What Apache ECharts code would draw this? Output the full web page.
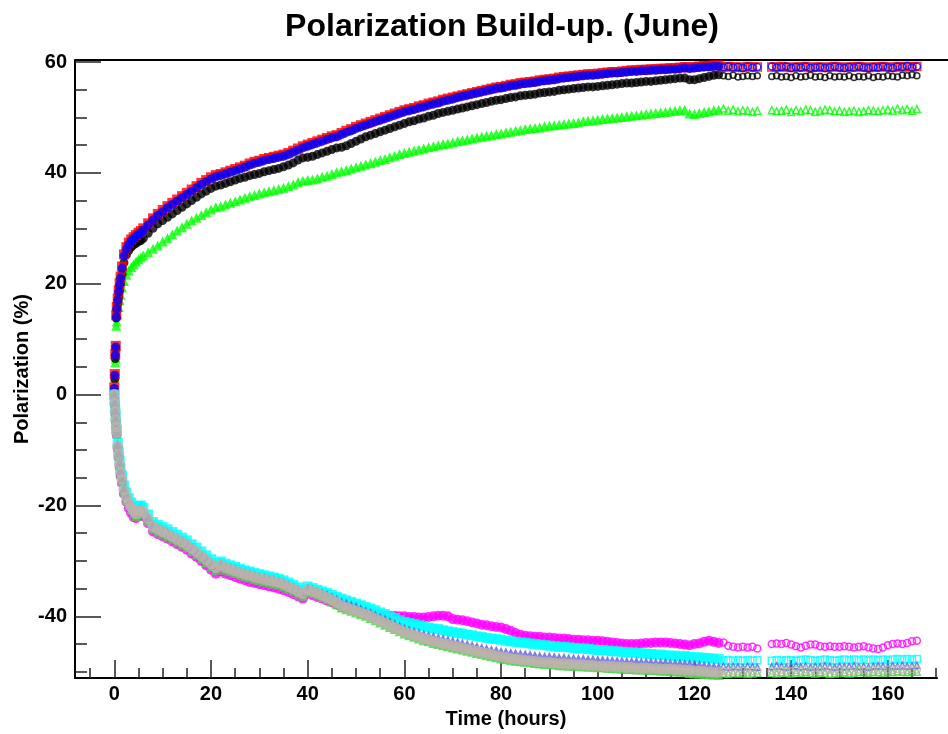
<!DOCTYPE html>
<html>
<head>
<meta charset="utf-8">
<title>Polarization Build-up. (June)</title>
<script src="https://cdn.jsdelivr.net/npm/echarts@6/dist/echarts.min.js"></script>
<style>
    html, body { margin: 0; padding: 0; background: #fff; }
    #chart { width: 948px; height: 734px; }
</style>
</head>
<body>
<div id="chart"></div>
<script>
// 测量时间 (hours)
var times = [
    0, 0.1, 0.2, 0.3, 0.4, 0.5, 0.7, 0.9, 1.1, 1.3, 1.6, 2, 2.5, 3, 3.5, 4, 4.5, 5, 5.5,
    6, 7, 8, 9, 10, 11, 12, 13, 14, 15, 16, 17, 18, 19, 20, 21,
    22, 23, 24, 25, 26, 27, 28, 29, 30, 31, 32, 33, 34, 35, 36, 37, 38, 39,
    40, 41, 42, 43, 44, 45, 46, 47, 48, 49,
    50, 51, 52, 53, 54, 55, 56, 57, 58, 59,
    60, 61, 62, 63, 64, 65, 66, 67, 68, 69,
    70, 71, 72, 73, 74, 75, 76, 77, 78, 79,
    80, 81, 82, 83, 84, 85, 86, 87, 88, 89,
    90, 91, 92, 93, 94, 95, 96, 97, 98, 99,
    100, 101, 102, 103, 104, 105, 106, 107, 108, 109,
    110, 111, 112, 113, 114, 115, 116, 117, 118, 119,
    120, 121, 122, 123, 124, 125,
    126, 127, 128, 129, 130, 131, 132, 133,
    136, 137, 138, 139, 140, 141, 142, 143, 144, 145,
    146, 147, 148, 149, 150, 151, 152, 153, 154, 155,
    156, 157, 158, 159, 160, 161, 162, 163, 164, 165, 166
];

// 上面一组 (正极化)
var greenUp = [
    0.5, 3.1, 5.8, 6.5, 12.4, 13.2, 14.5, 15.8, 17.0, 18.0, 19.3, 20.5, 21.6, 22.4, 23.0, 23.5, 24.0, 24.4, 24.8,
    25.1, 25.7, 26.3, 26.9, 27.6, 28.2, 28.9, 29.6, 30.2, 30.8, 31.4, 31.9, 32.4, 32.9, 33.4, 33.8,
    34.0, 34.3, 34.6, 34.9, 35.2, 35.5, 35.8, 36.0, 36.3, 36.5, 36.7, 36.9, 37.1, 37.3, 37.6, 37.9, 38.3, 38.6,
    38.7, 38.8, 39.0, 39.3, 39.5, 39.8, 40.1, 40.3, 40.5, 40.8,
    41.0, 41.3, 41.5, 41.8, 42.0, 42.3, 42.5, 42.8, 43.1, 43.4,
    43.6, 43.8, 44.0, 44.2, 44.4, 44.6, 44.8, 45.0, 45.2, 45.3,
    45.5, 45.7, 45.9, 46.0, 46.2, 46.4, 46.5, 46.7, 46.8, 47.0,
    47.1, 47.3, 47.4, 47.6, 47.7, 47.9, 48.0, 48.1, 48.2, 48.4,
    48.5, 48.6, 48.7, 48.8, 48.9, 49.0, 49.1, 49.3, 49.4, 49.5,
    49.6, 49.7, 49.8, 49.9, 50.0, 50.1, 50.2, 50.3, 50.4, 50.5,
    50.6, 50.7, 50.8, 50.9, 51.0, 51.1, 51.2, 51.3, 51.4, 50.7,
    50.6, 50.8, 51.0, 51.1, 51.3, 51.4,
    51.6, 51.2, 51.4, 51.1, 51.3, 51.2, 51.0, 51.2,
    51.3, 51.1, 51.2, 51.4, 51.0, 51.3, 51.1, 51.4, 51.3, 51.0,
    51.2, 51.4, 51.3, 51.1, 51.2, 51.0, 51.1, 51.2, 51.0, 51.1,
    51.3, 51.2, 51.1, 51.3, 51.4, 51.2, 51.6, 51.3, 51.5, 51.2, 51.5
];
var blackUp = [
    0.3, 2.8, 6.5, 8.2, 13.8, 15.0, 16.3, 17.6, 18.8, 20.0, 21.7, 23.8, 25.2, 26.0, 26.6, 27.0, 27.3, 27.6, 27.8,
    28.2, 29.1, 30.0, 30.8, 31.4, 32.0, 32.6, 33.2, 33.8, 34.4, 35.0, 35.6, 36.2, 36.7, 37.2, 37.6,
    37.8, 38.1, 38.4, 38.7, 39.0, 39.2, 39.5, 39.7, 39.9, 40.2, 40.4, 40.6, 40.8, 41.1, 41.4, 41.8, 42.3, 42.7,
    42.8, 43.0, 43.3, 43.6, 43.9, 44.2, 44.5, 44.6, 44.9, 45.3,
    45.7, 46.1, 46.5, 46.8, 47.1, 47.4, 47.7, 48.0, 48.3, 48.6,
    48.9, 49.2, 49.4, 49.7, 49.9, 50.2, 50.4, 50.7, 50.9, 51.1,
    51.3, 51.5, 51.7, 51.9, 52.1, 52.3, 52.5, 52.7, 52.9, 53.1,
    53.2, 53.4, 53.6, 53.7, 53.9, 54.0, 54.1, 54.2, 54.4, 54.5,
    54.6, 54.7, 54.9, 55.0, 55.1, 55.2, 55.3, 55.4, 55.5, 55.5,
    55.6, 55.7, 55.8, 55.9, 56.0, 56.1, 56.2, 56.2, 56.3, 56.4,
    56.5, 56.5, 56.6, 56.7, 56.8, 56.9, 57.0, 57.1, 57.1, 56.8,
    56.8, 57.0, 57.2, 57.4, 57.6, 57.7,
    57.5, 57.4, 57.6, 57.3, 57.4, 57.5, 57.4, 57.5,
    57.4, 57.5, 57.3, 57.4, 57.2, 57.5, 57.3, 57.4, 57.6, 57.3,
    57.4, 57.2, 57.5, 57.3, 57.4, 57.3, 57.5, 57.2, 57.4, 57.3,
    57.5, 57.2, 57.4, 57.3, 57.5, 57.4, 57.3, 57.6, 57.5, 57.7, 57.5
];
var redUp = [
    1.3, 3.7, 7.3, 8.8, 14.3, 15.8, 17.3, 18.8, 20.1, 21.3, 23.1, 25.3, 26.6, 27.4, 28.0, 28.4, 28.8, 29.2, 29.5,
    30.0, 30.9, 31.8, 32.6, 33.3, 34.0, 34.6, 35.2, 35.8, 36.4, 37.0, 37.6, 38.2, 38.7, 39.2, 39.6,
    39.8, 40.1, 40.4, 40.7, 41.0, 41.3, 41.7, 42.0, 42.2, 42.5, 42.7, 42.9, 43.1, 43.3, 43.6, 44.0, 44.4, 44.8,
    45.1, 45.4, 45.7, 46.0, 46.3, 46.6, 46.8, 47.2, 47.6, 47.9,
    48.3, 48.6, 48.9, 49.2, 49.5, 49.8, 50.1, 50.4, 50.7, 51.0,
    51.3, 51.5, 51.7, 52.0, 52.2, 52.5, 52.7, 52.9, 53.2, 53.4,
    53.6, 53.8, 54.0, 54.2, 54.4, 54.6, 54.8, 55.0, 55.2, 55.4,
    55.5, 55.7, 55.9, 56.0, 56.2, 56.3, 56.4, 56.5, 56.7, 56.8,
    56.9, 57.0, 57.2, 57.3, 57.4, 57.5, 57.6, 57.7, 57.8, 57.8,
    57.9, 58.0, 58.1, 58.2, 58.2, 58.3, 58.4, 58.5, 58.5, 58.6,
    58.6, 58.7, 58.7, 58.8, 58.8, 58.9, 58.9, 59.0, 59.1, 59.0,
    59.1, 59.2, 59.3, 59.3, 59.4, 59.4,
    59.1, 59.2, 59.1, 59.1, 59.0, 59.2, 59.1, 59.1,
    59.1, 59.1, 59.2, 59.1, 59.0, 59.1, 59.1, 59.2, 59.0, 59.1,
    59.1, 59.0, 59.1, 59.2, 59.1, 59.0, 59.1, 59.1, 59.2, 59.1,
    59.0, 59.1, 59.1, 59.2, 59.1, 59.0, 59.2, 59.1, 59.2, 59.1, 59.2
];
var blueUp = [
    1.1, 3.5, 7.1, 8.6, 14.0, 15.5, 17.0, 18.5, 19.8, 21.0, 22.8, 25.0, 26.3, 27.1, 27.7, 28.1, 28.5, 28.9, 29.2,
    29.7, 30.6, 31.5, 32.3, 33.0, 33.7, 34.3, 34.9, 35.5, 36.1, 36.7, 37.3, 37.9, 38.4, 38.9, 39.3,
    39.5, 39.8, 40.1, 40.4, 40.7, 41.0, 41.4, 41.7, 41.9, 42.2, 42.4, 42.6, 42.8, 43.0, 43.3, 43.7, 44.1, 44.5,
    44.8, 45.1, 45.4, 45.7, 46.0, 46.3, 46.5, 46.9, 47.3, 47.6,
    48.0, 48.3, 48.6, 48.9, 49.2, 49.5, 49.8, 50.1, 50.4, 50.7,
    51.0, 51.2, 51.4, 51.7, 51.9, 52.2, 52.4, 52.6, 52.9, 53.1,
    53.3, 53.6, 53.8, 54.0, 54.2, 54.4, 54.6, 54.8, 55.0, 55.2,
    55.3, 55.5, 55.7, 55.8, 56.0, 56.1, 56.2, 56.3, 56.5, 56.6,
    56.7, 56.8, 57.0, 57.1, 57.2, 57.3, 57.4, 57.5, 57.6, 57.6,
    57.7, 57.8, 57.9, 58.0, 58.0, 58.1, 58.2, 58.3, 58.3, 58.4,
    58.4, 58.5, 58.5, 58.6, 58.6, 58.7, 58.7, 58.8, 58.9, 58.8,
    58.9, 59.0, 59.1, 59.1, 59.2, 59.2,
    59.0, 59.2, 59.0, 59.1, 58.9, 59.2, 59.0, 59.1,
    59.2, 59.0, 59.1, 59.2, 58.9, 59.1, 59.0, 59.2, 58.9, 59.0,
    59.1, 58.9, 59.0, 59.2, 59.0, 58.9, 59.1, 59.0, 59.2, 59.0,
    58.9, 59.1, 59.0, 59.2, 59.0, 58.9, 59.2, 59.1, 59.3, 59.0, 59.2
];

// 下面一组 (负极化)
var magentaDn = [
    0, -1.7, -3.3, -4.8, -6.2, -7.2, -9.7, -11.3, -13.0, -14.6, -16.0, -17.9, -19.3, -20.5, -21.4, -22.1, -22.3, -21.8, -21.7,
    -22.0, -23.2, -24.7, -25.2, -25.6, -26.0, -26.5, -27.0, -27.5, -28.0, -28.7, -29.3, -30.0, -30.8, -31.6, -32.3,
    -31.9, -32.3, -32.6, -32.9, -33.2, -33.5, -33.8, -34.0, -34.2, -34.4, -34.6, -34.8, -35.0, -35.3, -35.6, -36.0, -36.4, -36.8,
    -35.9, -36.2, -36.5, -36.8, -37.2, -37.5, -37.9, -38.3, -38.5, -38.7,
    -38.9, -39.1, -39.3, -39.5, -39.6, -39.7, -39.8, -39.9, -39.9, -40.0,
    -40.0, -40.1, -40.1, -40.2, -40.2, -40.1, -40.0, -39.9, -39.9, -40.0,
    -40.5, -40.6, -40.7, -40.9, -41.1, -41.3, -41.5, -41.6, -41.8, -41.9,
    -42.0, -42.3, -42.6, -43.0, -43.3, -43.5, -43.6, -43.7, -43.7, -43.8,
    -43.8, -43.9, -44.0, -44.0, -44.1, -44.2, -44.2, -44.3, -44.3, -44.4,
    -44.4, -44.5, -44.6, -44.7, -44.8, -44.9, -45.0, -45.0, -45.0, -44.9,
    -44.8, -44.8, -44.7, -44.7, -44.7, -44.8, -44.9, -45.0, -45.1, -45.2,
    -45.0, -44.9, -44.6, -44.4, -44.6, -44.8,
    -44.7, -45.3, -45.5, -45.6, -45.5, -45.6, -45.5, -45.8,
    -45.0, -44.9, -45.0, -44.8, -45.1, -45.4, -45.6, -45.3, -45.1, -45.1,
    -45.4, -45.5, -45.4, -45.5, -45.5, -45.4, -45.5, -45.6, -45.5, -45.4,
    -45.6, -45.8, -45.9, -45.6, -45.2, -45.0, -44.9, -45.0, -44.8, -44.5, -44.4
];
var cyanDn = [
    0, -1.3, -2.7, -4.1, -5.4, -6.4, -8.7, -10.2, -11.9, -13.3, -14.6, -16.4, -17.7, -18.7, -19.5, -20.2, -20.6, -20.1, -20.0,
    -20.4, -21.6, -23.0, -23.5, -23.9, -24.3, -24.8, -25.3, -25.8, -26.3, -27.0, -27.6, -28.3, -29.0, -29.7, -30.4,
    -30.1, -30.5, -30.8, -31.1, -31.4, -31.7, -31.9, -32.2, -32.4, -32.6, -32.8, -33.0, -33.2, -33.5, -33.9, -34.3, -34.8, -35.2,
    -34.6, -34.9, -35.2, -35.5, -35.8, -36.1, -36.5, -36.8, -37.1, -37.4,
    -37.7, -38.0, -38.3, -38.6, -38.9, -39.3, -39.6, -40.0, -40.3, -40.7,
    -41.0, -41.2, -41.4, -41.6, -41.8, -42.0, -42.2, -42.3, -42.5, -42.7,
    -42.8, -43.0, -43.1, -43.3, -43.4, -43.6, -43.7, -43.9, -44.0, -44.1,
    -44.2, -44.4, -44.5, -44.6, -44.7, -44.8, -44.9, -45.0, -45.1, -45.2,
    -45.3, -45.4, -45.5, -45.5, -45.6, -45.7, -45.8, -45.8, -45.9, -46.0,
    -46.1, -46.1, -46.2, -46.3, -46.3, -46.4, -46.5, -46.5, -46.6, -46.7,
    -46.7, -46.8, -46.9, -46.9, -47.0, -47.1, -47.1, -47.2, -47.2, -47.3,
    -47.4, -47.4, -47.5, -47.6, -47.6, -47.7,
    -48.0, -47.9, -48.0, -47.9, -48.0, -47.9, -48.0, -47.9,
    -48.0, -47.9, -48.0, -47.9, -47.9, -48.0, -47.9, -47.8, -47.9, -48.0,
    -47.9, -47.8, -47.9, -48.0, -47.9, -47.8, -47.9, -47.8, -47.9, -47.8,
    -47.9, -47.8, -47.9, -47.8, -47.9, -47.8, -47.7, -47.8, -47.7, -47.8, -47.7
];
var greenDn = [
    0, -1.6, -3.1, -4.6, -6.0, -7.0, -9.5, -11.0, -12.7, -14.3, -15.6, -17.5, -18.9, -19.9, -20.7, -21.4, -21.9, -21.4, -21.3,
    -21.6, -22.8, -24.2, -24.7, -25.1, -25.5, -26.0, -26.5, -27.0, -27.5, -28.2, -28.8, -29.5, -30.2, -30.9, -31.6,
    -31.2, -31.6, -31.9, -32.2, -32.5, -32.8, -33.0, -33.3, -33.5, -33.7, -33.9, -34.1, -34.3, -34.6, -35.0, -35.4, -35.9, -36.3,
    -35.5, -35.8, -36.1, -36.5, -36.9, -37.3, -37.8, -38.4, -38.7, -39.0,
    -39.3, -39.6, -39.9, -40.3, -40.7, -41.1, -41.5, -41.9, -42.3, -42.7,
    -43.1, -43.4, -43.7, -44.0, -44.3, -44.5, -44.8, -45.0, -45.2, -45.4,
    -45.6, -45.8, -46.0, -46.2, -46.4, -46.6, -46.8, -47.0, -47.2, -47.4,
    -47.6, -47.7, -47.9, -48.0, -48.1, -48.2, -48.3, -48.4, -48.5, -48.6,
    -48.6, -48.7, -48.8, -48.8, -48.9, -48.9, -49.0, -49.0, -49.1, -49.1,
    -49.2, -49.2, -49.3, -49.3, -49.4, -49.4, -49.5, -49.5, -49.6, -49.6,
    -49.6, -49.7, -49.7, -49.8, -49.8, -49.9, -49.9, -50.0, -50.1, -50.2,
    -50.3, -50.3, -50.4, -50.5, -50.5, -50.6,
    -50.3, -50.4, -50.2, -50.3, -50.2, -50.4, -50.3, -50.2,
    -50.2, -50.3, -50.1, -50.2, -50.3, -50.1, -50.2, -50.0, -50.2, -50.3,
    -50.1, -50.2, -50.4, -50.3, -50.2, -50.1, -50.3, -50.2, -50.0, -50.1,
    -50.2, -50.0, -50.1, -50.2, -50.0, -50.1, -49.9, -50.0, -50.1, -49.9, -50.0
];
var slateDn = [
    0, -1.4, -2.9, -4.3, -5.6, -6.6, -9.0, -10.5, -12.2, -13.7, -15.0, -16.9, -18.2, -19.2, -20.0, -20.7, -21.2, -20.7, -20.6,
    -20.9, -22.1, -23.5, -24.0, -24.4, -24.8, -25.3, -25.8, -26.3, -26.8, -27.5, -28.1, -28.8, -29.5, -30.2, -30.9,
    -30.5, -30.9, -31.2, -31.5, -31.8, -32.1, -32.3, -32.6, -32.8, -33.0, -33.2, -33.4, -33.6, -33.9, -34.3, -34.7, -35.2, -35.6,
    -34.9, -35.2, -35.5, -35.8, -36.1, -36.5, -36.9, -37.3, -37.6, -37.9,
    -38.2, -38.6, -39.0, -39.3, -39.7, -40.1, -40.5, -40.9, -41.3, -41.7,
    -42.1, -42.4, -42.7, -42.9, -43.2, -43.4, -43.6, -43.8, -44.0, -44.2,
    -44.4, -44.6, -44.8, -45.0, -45.2, -45.4, -45.6, -45.8, -46.0, -46.1,
    -46.3, -46.4, -46.5, -46.6, -46.7, -46.8, -46.9, -47.0, -47.1, -47.2,
    -47.2, -47.3, -47.4, -47.4, -47.5, -47.5, -47.6, -47.6, -47.7, -47.7,
    -47.8, -47.8, -47.9, -47.9, -48.0, -48.0, -48.1, -48.1, -48.1, -48.2,
    -48.2, -48.2, -48.3, -48.3, -48.3, -48.4, -48.4, -48.4, -48.5, -48.5,
    -48.6, -48.7, -48.8, -48.9, -49.0, -49.1,
    -49.0, -49.2, -49.0, -49.1, -49.2, -49.0, -49.1, -49.2,
    -49.1, -48.9, -49.0, -49.2, -49.0, -48.9, -49.1, -49.0, -49.2, -49.0,
    -49.1, -48.9, -49.0, -49.2, -49.0, -49.1, -49.0, -48.9, -49.1, -49.0,
    -49.2, -49.0, -48.9, -49.0, -49.1, -48.9, -49.0, -48.8, -49.0, -48.9, -48.8
];
var grayDn = [
    0, -1.5, -3.0, -4.5, -5.8, -6.8, -9.3, -10.8, -12.5, -14.0, -15.3, -17.2, -18.5, -19.5, -20.3, -21.0, -21.5, -21.0, -20.9,
    -21.2, -22.4, -23.8, -24.3, -24.7, -25.1, -25.6, -26.1, -26.6, -27.1, -27.8, -28.4, -29.1, -29.8, -30.5, -31.2,
    -30.8, -31.2, -31.5, -31.8, -32.1, -32.4, -32.6, -32.9, -33.1, -33.3, -33.5, -33.7, -33.9, -34.2, -34.6, -35.0, -35.5, -35.9,
    -35.2, -35.5, -35.8, -36.2, -36.6, -37.0, -37.5, -38.1, -38.4, -38.7,
    -39.0, -39.3, -39.6, -40.0, -40.4, -40.8, -41.2, -41.6, -42.0, -42.4,
    -42.8, -43.1, -43.4, -43.7, -44.0, -44.2, -44.5, -44.7, -44.9, -45.1,
    -45.3, -45.5, -45.7, -45.9, -46.1, -46.3, -46.5, -46.7, -46.9, -47.1,
    -47.3, -47.4, -47.6, -47.7, -47.8, -47.9, -48.0, -48.1, -48.2, -48.3,
    -48.3, -48.4, -48.5, -48.5, -48.6, -48.6, -48.7, -48.7, -48.8, -48.8,
    -48.9, -48.9, -49.0, -49.0, -49.1, -49.1, -49.2, -49.2, -49.3, -49.3,
    -49.3, -49.4, -49.4, -49.5, -49.5, -49.5, -49.6, -49.6, -49.7, -49.7,
    -49.8, -49.8, -49.9, -50.0, -50.1, -50.1,
    -49.9, -50.0, -49.8, -49.9, -49.8, -50.0, -49.9, -49.8,
    -49.8, -49.9, -49.7, -49.8, -49.9, -49.7, -49.8, -49.6, -49.8, -49.9,
    -49.7, -49.8, -49.6, -49.9, -49.8, -49.7, -49.9, -49.8, -49.6, -49.7,
    -49.8, -49.6, -49.7, -49.8, -49.6, -49.7, -49.5, -49.6, -49.7, -49.5, -49.6
];

// 坐标轴刻度
var xLabelTicks = [0, 20, 40, 60, 80, 100, 120, 140, 160];
var xMinorTicks = [-5, 0, 5, 10, 15, 20, 25, 30, 35, 40, 45, 50, 55, 60, 65, 70, 75, 80, 85, 90,
    95, 100, 105, 110, 115, 120, 125, 130, 135, 140, 145, 150, 155, 160, 165, 170];
var yLabelTicks = [-40, -20, 0, 20, 40, 60];
var yMinorTicks = [-50, -45, -40, -35, -30, -25, -20, -15, -10, -5, 0, 5, 10, 15, 20, 25, 30, 35,
    40, 45, 50, 55, 60];

(function() {
    var myChart = echarts.init(document.getElementById("chart"));
    var FONT = "'Liberation Sans', Arial, Helvetica, sans-serif";
    var DENSE_END = 125.5;

    // 稀疏区域 (t > 125) 画成空心标记
    function build(vals, color, hollowSize) {
        var out = [];
        var n = Math.min(times.length, vals.length);
        for (var i = 0; i < n; i++) {
            if (times[i] > DENSE_END) {
                out.push({
                    value: [times[i], vals[i]],
                    symbolSize: hollowSize,
                    itemStyle: { color: "rgba(255,255,255,0)", borderColor: color, borderWidth: 1.5 }
                });
            } else {
                out.push([times[i], vals[i]]);
            }
        }
        return out;
    }

    function mkSeries(name, vals, color, symbol, size, hollowSize) {
        return {
            name: name,
            type: "scatter",
            symbol: symbol,
            symbolSize: size,
            itemStyle: { color: color },
            data: build(vals, color, hollowSize),
            silent: true
        };
    }

    var option = {
        animation: false,
        backgroundColor: "#fff",
        title: {
            text: "Polarization Build-up. (June)",
            left: 497,
            top: 6,
            textAlign: "center",
            textStyle: { fontFamily: FONT, fontWeight: "bold", fontSize: 32, color: "#000" }
        },
        grid: { left: 75, right: 11, top: 60, bottom: 53 },
        xAxis: [
            {
                type: "value",
                min: -8.13,
                max: 170.17,
                name: "Time (hours)",
                nameLocation: "middle",
                nameGap: 27,
                nameTextStyle: { fontFamily: FONT, fontWeight: "bold", fontSize: 20, color: "#000" },
                axisLine: { show: true, onZero: false, lineStyle: { color: "#000", width: 2 } },
                axisTick: { show: true, inside: true, length: 18, customValues: xLabelTicks,
                    lineStyle: { color: "#222", width: 1.5 } },
                axisLabel: { customValues: xLabelTicks, margin: 6,
                    fontFamily: FONT, fontWeight: "bold", fontSize: 20, color: "#000" },
                splitLine: { show: false }
            },
            {
                type: "value",
                min: -8.13,
                max: 170.17,
                position: "bottom",
                axisLine: { show: false, onZero: false },
                axisTick: { show: true, inside: true, length: 10, customValues: xMinorTicks,
                    lineStyle: { color: "#222", width: 1.5 } },
                axisLabel: { show: false },
                splitLine: { show: false }
            }
        ],
        yAxis: [
            {
                type: "value",
                min: -51.14,
                max: 60.36,
                name: "Polarization (%)",
                nameLocation: "middle",
                nameGap: 43,
                nameMoveOverlap: false,
                nameTextStyle: { fontFamily: FONT, fontWeight: "bold", fontSize: 20, color: "#000" },
                axisLine: { show: true, onZero: false, lineStyle: { color: "#000", width: 2 } },
                axisTick: { show: true, inside: true, length: 26, customValues: yLabelTicks,
                    lineStyle: { color: "#222", width: 1.5 } },
                axisLabel: { customValues: yLabelTicks, margin: 8,
                    fontFamily: FONT, fontWeight: "bold", fontSize: 20, color: "#000" },
                splitLine: { show: false }
            },
            {
                type: "value",
                min: -51.14,
                max: 60.36,
                position: "left",
                axisLine: { show: false, onZero: false },
                axisTick: { show: true, inside: true, length: 12, customValues: yMinorTicks,
                    lineStyle: { color: "#222", width: 1.5 } },
                axisLabel: { show: false },
                splitLine: { show: false }
            }
        ],
        graphic: [
            {
                type: "line",
                shape: { x1: 75, y1: 60, x2: 948, y2: 60 },
                style: { stroke: "#000", lineWidth: 2 },
                silent: true
            }
        ],
        series: [
            mkSeries("green (+)", greenUp, "#00ff00", "triangle", 10, 7),
            mkSeries("black (+)", blackUp, "#000000", "circle", 9, 6),
            mkSeries("red (+)", redUp, "#ff0000", "rect", 10, 8),
            mkSeries("blue (+)", blueUp, "#0000ff", "circle", 9, 7),
            mkSeries("magenta (-)", magentaDn, "#ff00ff", "circle", 10, 7),
            mkSeries("cyan (-)", cyanDn, "#00ffff", "rect", 10, 7),
            mkSeries("green (-)", greenDn, "#4fd24f", "triangle", 10, 7),
            mkSeries("slateblue (-)", slateDn, "#5f5fdc", "triangle", 9, 6),
            mkSeries("gray (-)", grayDn, "#bcb3aa", "circle", 11, 7)
        ]
    };

    myChart.setOption(option);
    window.addEventListener("resize", function() {
        myChart.resize();
    });
})();
</script>
</body>
</html>
